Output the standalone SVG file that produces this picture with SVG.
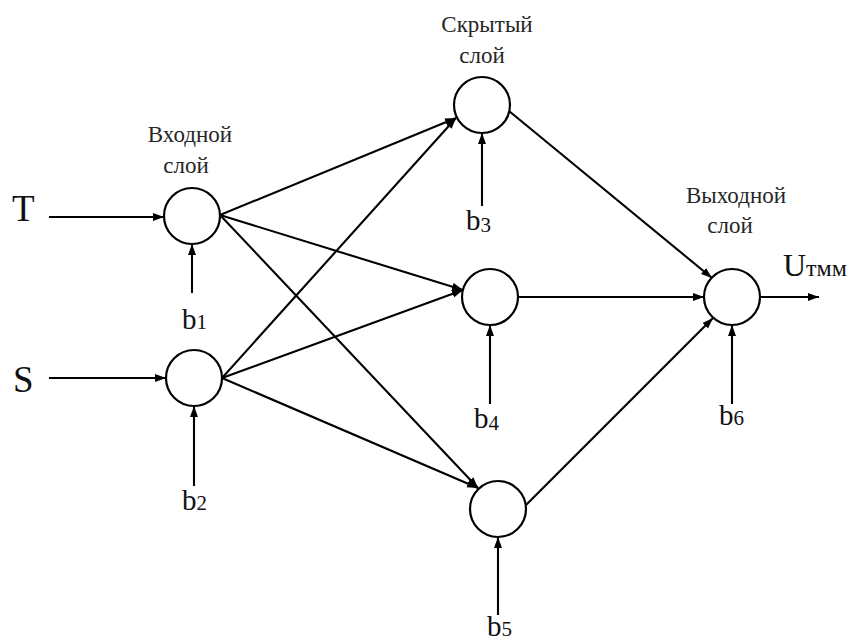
<svg xmlns="http://www.w3.org/2000/svg" width="849" height="642" viewBox="0 0 849 642">
  <style>
    .node { fill: #ffffff; stroke: #000000; stroke-width: 2.2; }
    .edge { stroke: #000000; stroke-width: 2.1; fill: none; marker-end: url(#arrow); }
    .cap { font-family: "Liberation Serif", "DejaVu Serif", serif; font-size: 23px; fill: #262626; text-anchor: middle; }
    .sym { font-family: "Liberation Serif", "DejaVu Serif", serif; fill: #111111; }
    .big { font-size: 37px; }
    .bias { font-size: 29px; }
    .sub { font-size: 21px; }
  </style>
  <defs>
    <marker id="arrow" markerUnits="userSpaceOnUse" markerWidth="12" markerHeight="9" refX="11" refY="4" orient="auto">
      <path d="M0,0 L11,4 L0,8 z" fill="#000000"/>
    </marker>
  </defs>
  <rect width="849" height="642" fill="#ffffff"/>

  <!-- connectors -->
  <g id="connectors">
    <!-- inputs -->
    <line class="edge" x1="49" y1="217" x2="164" y2="217"/>
    <line class="edge" x1="49" y1="378" x2="166" y2="378"/>
    <!-- input layer to hidden layer -->
    <line class="edge" x1="220" y1="215" x2="456" y2="118"/>
    <line class="edge" x1="220" y1="215" x2="463" y2="290"/>
    <line class="edge" x1="220" y1="215" x2="478" y2="488"/>
    <line class="edge" x1="222" y1="378" x2="456" y2="118"/>
    <line class="edge" x1="222" y1="378" x2="463" y2="290"/>
    <line class="edge" x1="222" y1="378" x2="478" y2="488"/>
    <!-- hidden layer to output -->
    <line class="edge" x1="509" y1="111" x2="712" y2="278"/>
    <line class="edge" x1="518" y1="297" x2="704" y2="297"/>
    <line class="edge" x1="525" y1="506" x2="713" y2="318"/>
    <!-- output -->
    <line class="edge" x1="760" y1="297" x2="819" y2="297"/>
    <!-- biases -->
    <line class="edge" x1="192" y1="293" x2="192" y2="244"/>
    <line class="edge" x1="194" y1="486" x2="194" y2="406"/>
    <line class="edge" x1="482" y1="206" x2="482" y2="133"/>
    <line class="edge" x1="490" y1="404" x2="490" y2="325"/>
    <line class="edge" x1="498" y1="615" x2="498" y2="537"/>
    <line class="edge" x1="732" y1="404" x2="732" y2="325"/>
  </g>

  <!-- input layer -->
  <g id="n1">
    <circle class="node" cx="192" cy="216" r="28"/>
  </g>
  <g id="n2">
    <circle class="node" cx="194" cy="378" r="28"/>
  </g>
  <!-- hidden layer -->
  <g id="n3">
    <circle class="node" cx="482" cy="105" r="28"/>
  </g>
  <g id="n4">
    <circle class="node" cx="490" cy="297" r="28"/>
  </g>
  <g id="n5">
    <circle class="node" cx="498" cy="509" r="28"/>
  </g>
  <!-- output layer -->
  <g id="n6">
    <circle class="node" cx="732" cy="297" r="28"/>
  </g>

  <!-- layer captions -->
  <g id="captions">
    <text class="cap" x="190" y="142">Входной</text>
    <text class="cap" x="186" y="173">слой</text>
    <text class="cap" x="487" y="32">Скрытый</text>
    <text class="cap" x="482" y="63">слой</text>
    <text class="cap" x="736" y="203">Выходной</text>
    <text class="cap" x="730" y="233">слой</text>
  </g>

  <!-- signal labels -->
  <g id="labels">
    <text class="sym big" x="12" y="221">T</text>
    <text class="sym big" x="13" y="392">S</text>
    <text class="sym bias" x="182" y="329">b<tspan class="sub">1</tspan></text>
    <text class="sym bias" x="182" y="510">b<tspan class="sub">2</tspan></text>
    <text class="sym bias" x="466" y="230">b<tspan class="sub" dy="2">3</tspan></text>
    <text class="sym bias" x="474" y="428">b<tspan class="sub" dy="2">4</tspan></text>
    <text class="sym bias" x="487" y="636">b<tspan class="sub">5</tspan></text>
    <text class="sym bias" x="719" y="425">b<tspan class="sub">6</tspan></text>
    <text class="sym" x="783" y="276" font-size="32">U<tspan font-size="24">тмм</tspan></text>
  </g>
</svg>
